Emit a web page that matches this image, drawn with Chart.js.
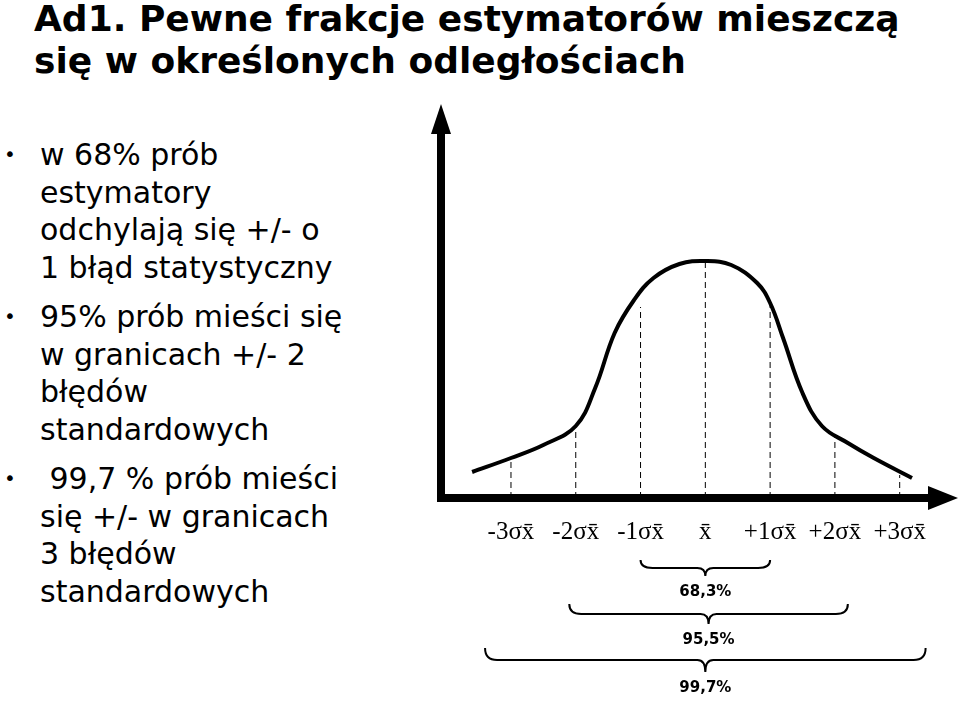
<!DOCTYPE html>
<html><head><meta charset="utf-8">
<script src="https://cdn.jsdelivr.net/npm/chart.js@4"></script>
<style>
body{margin:0;width:960px;height:712px;background:#fff;position:relative;overflow:hidden;font-family:"DejaVu Sans",sans-serif}
h1{position:absolute;left:34px;top:-2px;margin:0;font-size:36px;line-height:42px;font-weight:bold;color:#000}
ul{position:absolute;left:0;top:136px;margin:0;padding:0;list-style:none;font-size:30px;line-height:37.5px;color:#000}
li{position:relative;padding-left:40px;margin-bottom:12px}
li:before{content:"•";position:absolute;left:4px;font-size:20px}
#wrap{position:absolute;left:430px;top:95px;width:530px;height:617px}
</style></head><body>
<h1>Ad1. Pewne frakcje estymatorów mieszczą<br>się w określonych odległościach</h1>
<ul>
<li>w 68% prób<br>estymatory<br>odchylają się +/- o<br>1 błąd statystyczny</li>
<li>95% prób mieści się<br>w granicach +/- 2<br>błędów<br>standardowych</li>
<li>&nbsp;99,7 % prób mieści<br>się +/- w granicach<br>3 błędów<br>standardowych</li>
</ul>
<div id="wrap"><canvas id="c"></canvas></div>
<script>
const curveX = [-3.6,-3,-2.5,-2,-1.7,-1.4,-1.1,-0.8,-0.4,0,0.4,0.8,1,1.2,1.5,1.8,2.2,2.6,3.19];
const curveY = [26,40,53,72,110,165,198,220,234,237,233,215,195,160,105,72,55,40,20];
const sigmaPos = [-3,-2,-1,0,1,2,3];
const dashH = [40,72,191,237,195,61,23];
const tickLabels = ['-3σx̄','-2σx̄','-1σx̄','x̄','+1σx̄','+2σx̄','+3σx̄'];
const braces = [{from:-1,to:1,label:'68,3%'},{from:-2.1,to:2.2,label:'95,5%'},{from:-3.4,to:3.4,label:'99,7%'}];

const datasets = [{data:curveX.map((x,i)=>({x,y:curveY[i]})),borderColor:'#000',borderWidth:4,tension:0.4,pointRadius:0,fill:false}];
sigmaPos.forEach((x,i)=>datasets.push({data:[{x,y:0},{x,y:dashH[i]}],borderColor:'#000',borderWidth:1,borderDash:[6,4],pointRadius:0}));

const deco = {
  id:'deco',
  afterDraw(ch){
    const c=ch.ctx, a=ch.chartArea, xs=ch.scales.x;
    c.save();c.fillStyle='#000';c.strokeStyle='#000';
    c.fillRect(a.left-4,a.top+22,8,a.bottom-a.top-18);
    c.fillRect(a.left-4,a.bottom-4,a.right-a.left-18,8);
    c.beginPath();c.moveTo(a.left,a.top);c.lineTo(a.left-10,a.top+30);c.lineTo(a.left+10,a.top+30);c.fill();
    c.beginPath();c.moveTo(a.right,a.bottom);c.lineTo(a.right-30,a.bottom-12);c.lineTo(a.right-30,a.bottom+12);c.fill();
    c.font='25px "Liberation Serif",serif';c.textAlign='center';c.textBaseline='middle';
    sigmaPos.forEach((s,i)=>c.fillText(tickLabels[i],xs.getPixelForValue(s),a.bottom+34));
    c.lineWidth=2;
    braces.forEach((b,i)=>{
      const x1=xs.getPixelForValue(b.from),x2=xs.getPixelForValue(b.to),m=(x1+x2)/2;
      const y=a.bottom+62+i*44, d=8+i*2;
      c.beginPath();c.moveTo(x1,y);c.quadraticCurveTo(x1,y+d,x1+12,y+d);c.lineTo(m-8,y+d);
      c.quadraticCurveTo(m,y+d,m,y+2*d);c.quadraticCurveTo(m,y+d,m+8,y+d);
      c.lineTo(x2-12,y+d);c.quadraticCurveTo(x2,y+d,x2,y);c.stroke();
      c.font='bold 15px "DejaVu Sans",sans-serif';c.fillText(b.label,m,y+2*d+16);
    });
    c.restore();
  }
};

new Chart(document.getElementById('c'),{
  type:'line',data:{datasets},
  options:{responsive:true,maintainAspectRatio:false,animation:false,
    layout:{padding:{left:11,right:2,top:9,bottom:214}},
    plugins:{legend:{display:false},tooltip:{enabled:false}},
    scales:{x:{type:'linear',min:-4.08,max:3.9,display:false},y:{min:0,max:394,display:false}}},
  plugins:[deco]
});
</script></body></html>
